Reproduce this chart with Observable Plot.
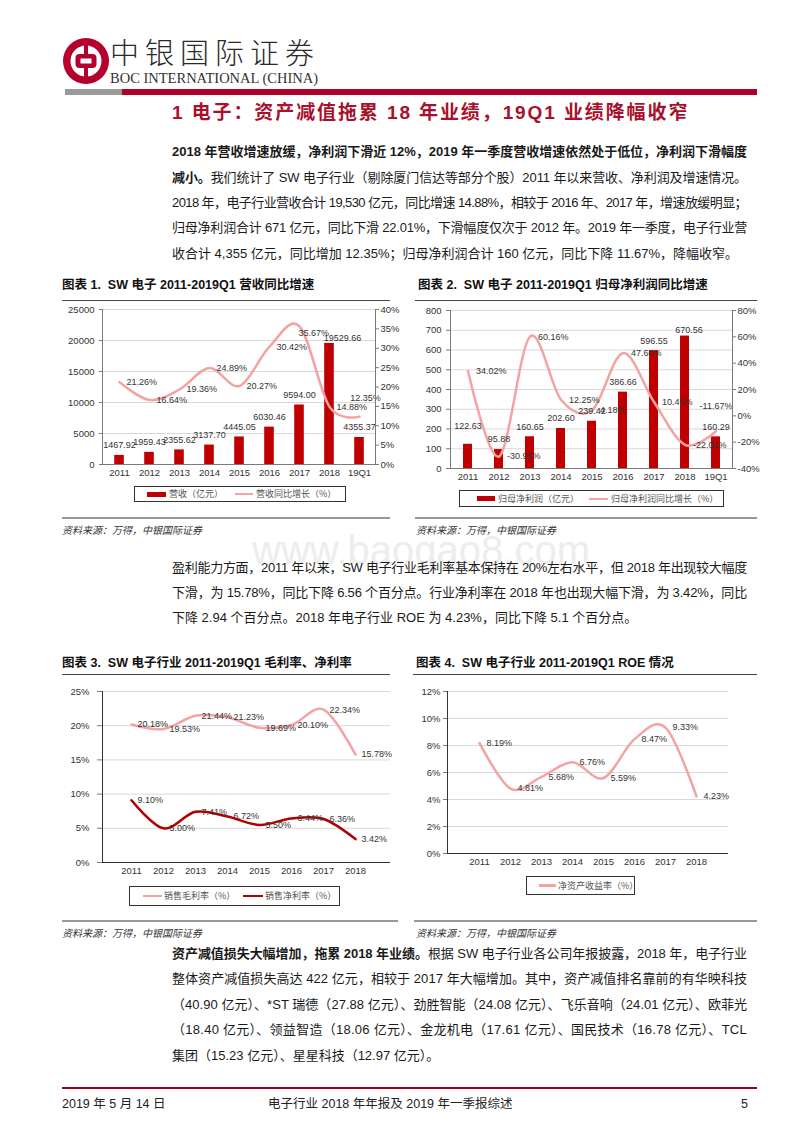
<!DOCTYPE html>
<html><head><meta charset="utf-8">
<script src="https://cdn.jsdelivr.net/npm/d3@7"></script>
<script src="https://cdn.jsdelivr.net/npm/@observablehq/plot@0.6"></script>
<style>
body{margin:0;background:#fff;}
#page{position:relative;width:800px;height:1132px;overflow:hidden;font-family:"Liberation Sans Narrow","Liberation Sans","Noto Sans CJK SC",sans-serif;color:#222;}
.ab{position:absolute;white-space:nowrap;}
.ct{font-family:"Liberation Sans","Noto Sans CJK SC",sans-serif;font-weight:bold;font-size:12.5px;color:#111;}
.src{font-family:"Noto Sans CJK SC",sans-serif;font-style:italic;font-size:10px;color:#333;}
.lg{position:absolute;border:1px solid #333;box-sizing:border-box;background:#fff;}
.lgt{position:absolute;font-family:"Noto Sans CJK SC",sans-serif;font-size:9px;color:#555;white-space:nowrap;}
svg{overflow:visible;}
</style></head>
<body><div id="page"></div>
<script>
// ---------------- data ----------------
const years9 = ["2011","2012","2013","2014","2015","2016","2017","2018","19Q1"];
const revenue = [1467.92, 1959.43, 2355.62, 3137.70, 4445.05, 6030.46, 9594.00, 19529.66, 4355.37];
const revenueGrowth = [21.26, 16.64, 19.36, 24.89, 20.27, 30.42, 35.67, 14.88, 12.35];
const netProfit = [122.63, 95.88, 160.65, 202.60, 239.42, 386.66, 596.55, 670.56, 160.29];
const netProfitGrowth = [34.02, -30.95, 60.16, 12.25, 4.18, 47.60, 10.45, -22.01, -11.67];
const years8 = ["2011","2012","2013","2014","2015","2016","2017","2018"];
const grossMargin = [20.18, 19.53, 21.44, 21.23, 19.69, 20.10, 22.34, 15.78];
const netMargin = [9.10, 5.00, 7.41, 6.72, 5.50, 6.44, 6.36, 3.42];
const roe = [8.19, 4.81, 5.68, 6.76, 5.59, 8.47, 9.33, 4.23];
const revTicks = [0, 5000, 10000, 15000, 20000, 25000];
const revPctTicks = [0, 5, 10, 15, 20, 25, 30, 35, 40];
const npTicks = [0, 100, 200, 300, 400, 500, 600, 700, 800];
const npPctTicks = [-40, -20, 0, 20, 40, 60, 80];
const marginTicks = [0, 5, 10, 15, 20, 25];
const roeTicks = [0, 2, 4, 6, 8, 10, 12];

const RED = "#c00000", PINK = "#f4a3a3", DARK = "#b00000", AX = "#7a7a7a";
const page = document.getElementById("page");

function el(tag, cls, css, html) {
  const e = document.createElement(tag);
  if (cls) e.className = cls;
  Object.assign(e.style, css || {});
  if (html != null) e.innerHTML = html;
  page.appendChild(e);
  return e;
}
function hline(x1, x2, y, color, w) {
  el("div", "", {position:"absolute", left:x1+"px", top:(y - w/2)+"px", width:(x2-x1)+"px", height:w+"px", background:color});
}
function text(html, x, yc, css, cls, lh) {
  lh = lh || 14;
  return el("div", "ab " + (cls||""), Object.assign({left:x+"px", top:(yc-lh/2)+"px", lineHeight:lh+"px", height:lh+"px"}, css||{}), html);
}
// justified body line
function bodyLine(html, yc, justify) {
  const d = el("div", "ab", {left:"172px", top:(yc-8)+"px", lineHeight:"16px", fontSize:"13px", color:"#1a1a1a"});
  const s = document.createElement("span");
  s.innerHTML = html;
  s.style.display = "inline-block";
  d.appendChild(s);
  if (justify) {
    const w = s.getBoundingClientRect().width;
    const n = s.textContent.length;
    s.style.letterSpacing = ((575 - w) / n) + "px";
  }
}

// ---------------- header ----------------
el("div", "", {position:"absolute", left:"0", top:"0"}, `
<svg width="130" height="100" style="position:absolute;left:0;top:0">
  <circle cx="86" cy="61" r="23" fill="#b5002d"/>
  <circle cx="86" cy="61" r="15.5" fill="#fff"/>
  <rect x="84" y="44" width="4" height="34" fill="#b5002d"/>
  <rect x="75.5" y="54" width="21" height="14" rx="4" fill="#b5002d"/>
  <rect x="80.5" y="58.5" width="11" height="5" fill="#fff"/>
</svg>`);
text("中银国际证券", 110, 51, {fontFamily:'"Noto Sans CJK SC",sans-serif', fontWeight:"300", fontSize:"29px", color:"#2a2a2a", letterSpacing:"6px"}, "", 29);
text("BOC INTERNATIONAL (CHINA)", 110, 78, {fontFamily:'"Liberation Serif",serif', fontSize:"14.5px", color:"#333", letterSpacing:"0px"}, "", 12);
hline(65, 122, 92, "#9a9a9a", 6);
hline(122, 757, 92, "#b0002b", 6);
text("1 电子：资产减值拖累 18 年业绩，19Q1 业绩降幅收窄", 172, 113, {fontFamily:'"Liberation Sans","Noto Sans CJK SC",sans-serif', fontWeight:"bold", fontSize:"19px", color:"#a8102b", letterSpacing:"1.9px"}, "", 20);

// ---------------- paragraph 1 ----------------
bodyLine("<b>2018 年营收增速放缓，净利润下滑近 12%，2019 年一季度营收增速依然处于低位，净利润下滑幅度</b>", 152, true);
bodyLine("<b>减小。</b>我们统计了 SW 电子行业（剔除厦门信达等部分个股）2011 年以来营收、净利润及增速情况。", 178, true);
bodyLine("2018 年，电子行业营收合计 19,530 亿元，同比增速 14.88%，相较于 2016 年、2017 年，增速放缓明显；", 203, true);
bodyLine("归母净利润合计 671 亿元，同比下滑 22.01%，下滑幅度仅次于 2012 年。2019 年一季度，电子行业营", 228, true);
bodyLine("收合计 4,355 亿元，同比增加 12.35%；归母净利润合计 160 亿元，同比下降 11.67%，降幅收窄。", 254, false);

// ---------------- chart frames / titles ----------------
text("图表 1.&nbsp; SW 电子 2011-2019Q1 营收同比增速", 62, 285, {}, "ct");
text("图表 2.&nbsp; SW 电子 2011-2019Q1 归母净利润同比增速", 418, 285, {}, "ct");
hline(62, 390, 300, "#444", 1);
hline(415, 757, 300, "#444", 1);
hline(62, 390, 518, "#999", 1.5);
hline(415, 757, 518, "#999", 1.5);
text("资料来源：万得，中银国际证券", 62, 530, {}, "src", 12);
text("资料来源：万得，中银国际证券", 416, 530, {}, "src", 12);

text("图表 3.&nbsp; SW 电子行业 2011-2019Q1 毛利率、净利率", 62, 663, {}, "ct");
text("图表 4.&nbsp; SW 电子行业 2011-2019Q1 ROE 情况", 416, 663, {}, "ct");
hline(62, 390, 674, "#444", 1);
hline(413, 757, 674, "#444", 1);
hline(62, 398, 921, "#999", 1.5);
hline(414, 757, 921, "#999", 1.5);
text("资料来源：万得，中银国际证券", 62, 933, {}, "src", 12);
text("资料来源：万得，中银国际证券", 416, 933, {}, "src", 12);

// watermark
text("www.baogao8.com", 252, 550, {fontFamily:'"Liberation Sans",sans-serif', fontSize:"40px", color:"#ededed"}, "", 20);

// ---------------- paragraph 2 ----------------
bodyLine("盈利能力方面，2011 年以来，SW 电子行业毛利率基本保持在 20%左右水平，但 2018 年出现较大幅度", 568, true);
bodyLine("下滑，为 15.78%，同比下降 6.56 个百分点。行业净利率在 2018 年也出现大幅下滑，为 3.42%，同比", 593, true);
bodyLine("下降 2.94 个百分点。2018 年电子行业 ROE 为 4.23%，同比下降 5.1 个百分点。", 618, false);

// ---------------- paragraph 3 ----------------
bodyLine("<b>资产减值损失大幅增加，拖累 2018 年业绩。</b>根据 SW 电子行业各公司年报披露，2018 年，电子行业", 954, true);
bodyLine("整体资产减值损失高达 422 亿元，相较于 2017 年大幅增加。其中，资产减值排名靠前的有华映科技", 979, true);
bodyLine("（40.90 亿元）、*ST 瑞德（27.88 亿元）、劲胜智能（24.08 亿元）、飞乐音响（24.01 亿元）、欧菲光", 1005, true);
bodyLine("（18.40 亿元）、领益智造（18.06 亿元）、金龙机电（17.61 亿元）、国民技术（16.78 亿元）、TCL", 1030, true);
bodyLine("集团（15.23 亿元）、星星科技（12.97 亿元）。", 1056, false);

// ---------------- footer ----------------
hline(62, 757, 1088, "#a0001e", 1.5);
text("2019 年 5 月 14 日", 62, 1104, {fontSize:"12.5px"});
text("电子行业 2018 年年报及 2019 年一季报综述", 268, 1104, {fontSize:"12.5px"});
text("5", 741, 1104, {fontSize:"12.5px"});

// ---------------- charts ----------------
const pstyle = {fontFamily:'"Liberation Sans Narrow","Liberation Sans",Arial,sans-serif', fontSize:"9.5px", color:"#333", background:"transparent", overflow:"visible"};
function place(svg, x, y) {
  svg.style.position = "absolute";
  svg.style.left = x + "px";
  svg.style.top = y + "px";
  page.appendChild(svg);
}
const lab = {fill:"#333", stroke:"none", fontSize: 9};

// Chart 1
const t1 = years9.map((year, i) => ({year, v: revenue[i], g: revenueGrowth[i]}));
const s1 = p => p / 40 * 25000;
const c1 = Plot.plot({
  width: 340, height: 184, marginLeft: 42, marginRight: 25, marginTop: 9, marginBottom: 20,
  style: pstyle,
  x: {type: "band", domain: years9, padding: 0, label: null},
  y: {domain: [0, 25000], label: null},
  marks: [
    Plot.gridY(revTicks.slice(1), {stroke: "#d9d9d9", strokeOpacity: 1}),
    Plot.barY(t1, {x: "year", y: "v", fill: RED, insetLeft: 10.2, insetRight: 10.2}),
    Plot.line(t1, {x: "year", y: d => s1(d.g), stroke: PINK, strokeWidth: 2.5, curve: "cardinal", tension: 0}),
    Plot.text(t1.filter(d => d.year !== "2018"), {x: "year", y: "v", text: d => d.v.toFixed(2), dy: -10, ...lab}),
    Plot.text(t1.filter(d => d.year === "2018"), {x: "year", y: "v", text: d => d.v.toFixed(2), dy: -5, dx: 13, ...lab}),
    Plot.text(t1.filter(d => !["2017", "19Q1"].includes(d.year)), {x: "year", y: d => s1(d.g), text: d => d.g.toFixed(2) + "%", textAnchor: "start", dx: 7, ...lab}),
    Plot.text(t1.filter(d => d.year === "2017"), {x: "year", y: d => s1(d.g), text: d => d.g.toFixed(2) + "%", textAnchor: "start", dx: -1, dy: 7, ...lab}),
    Plot.text(t1.filter(d => d.year === "19Q1"), {x: "year", y: d => s1(d.g), text: d => d.g.toFixed(2) + "%", dx: 6, dy: -19, ...lab}),
    Plot.axisY(revTicks, {anchor: "left", tickSize: 3, tickPadding: 5, tickFormat: d => String(d), stroke: AX}),
    Plot.axisY(revPctTicks.map(s1), {anchor: "right", tickSize: 3, tickPadding: 2, tickFormat: d => Math.round(d / 25000 * 40) + "%", stroke: AX}),
    Plot.axisX({tickSize: 0, tickPadding: 5}),
    Plot.frame({anchor: "left", stroke: AX}),
    Plot.frame({anchor: "right", stroke: AX}),
    Plot.ruleY([0], {stroke: AX})
  ]
});
place(c1, 60, 300);

// Chart 2
const t2 = years9.map((year, i) => ({year, v: netProfit[i], g: netProfitGrowth[i]}));
const s2 = p => (p + 40) / 120 * 800;
const c2 = Plot.plot({
  width: 365, height: 188, marginLeft: 50, marginRight: 33, marginTop: 10, marginBottom: 20,
  style: pstyle,
  x: {type: "band", domain: years9, padding: 0, label: null},
  y: {domain: [0, 800], label: null},
  marks: [
    Plot.gridY(npTicks.slice(1), {stroke: "#d9d9d9", strokeOpacity: 1}),
    Plot.barY(t2, {x: "year", y: "v", fill: RED, insetLeft: 11, insetRight: 11}),
    Plot.line(t2, {x: "year", y: d => s2(d.g), stroke: PINK, strokeWidth: 2.5, curve: "cardinal", tension: 0}),
    Plot.text(t2.filter(d => !["2011", "2018"].includes(d.year)), {x: "year", y: "v", text: d => d.v.toFixed(2), dy: -10, ...lab}),
    Plot.text(t2.filter(d => d.year === "2011"), {x: "year", y: "v", text: d => d.v.toFixed(2), dy: -18, ...lab}),
    Plot.text(t2.filter(d => d.year === "2018"), {x: "year", y: "v", text: d => d.v.toFixed(2), dy: -6, dx: 4, ...lab}),
    Plot.text(t2.filter(d => d.year !== "19Q1"), {x: "year", y: d => s2(d.g), text: d => d.g.toFixed(2) + "%", textAnchor: "start", dx: 8, ...lab}),
    Plot.text(t2.filter(d => d.year === "19Q1"), {x: "year", y: d => s2(d.g), text: d => d.g.toFixed(2) + "%", dx: 0, dy: -25, ...lab}),
    Plot.axisY(npTicks, {anchor: "left", tickSize: 4, tickPadding: 5, tickFormat: d => String(d), stroke: AX}),
    Plot.axisY(npPctTicks.map(s2), {anchor: "right", tickSize: 3, tickPadding: 2, tickFormat: d => Math.round(d / 800 * 120 - 40) + "%", stroke: AX}),
    Plot.axisX({tickSize: 0, tickPadding: 5}),
    Plot.frame({anchor: "left", stroke: AX}),
    Plot.frame({anchor: "right", stroke: AX}),
    Plot.ruleY([0], {stroke: AX})
  ]
});
place(c2, 400, 300);

// Chart 3
const t3 = years8.map((year, i) => ({year, gm: grossMargin[i], nm: netMargin[i]}));
const c3 = Plot.plot({
  width: 340, height: 202, marginLeft: 42, marginRight: 10, marginTop: 11, marginBottom: 20,
  style: pstyle,
  x: {type: "point", domain: years8, range: [53.3, 313.3], label: null},
  y: {domain: [0, 25], label: null},
  marks: [
    Plot.gridY(marginTicks.slice(1), {stroke: "#d9d9d9", strokeOpacity: 1}),
    Plot.line(t3, {x: "year", y: "gm", stroke: PINK, strokeWidth: 2.5, curve: "cardinal", tension: 0}),
    Plot.line(t3, {x: "year", y: "nm", stroke: DARK, strokeWidth: 2.5, curve: "cardinal", tension: 0}),
    Plot.text(t3, {x: "year", y: "gm", text: d => d.gm.toFixed(2) + "%", textAnchor: "start", dx: 6, ...lab}),
    Plot.text(t3, {x: "year", y: "nm", text: d => d.nm.toFixed(2) + "%", textAnchor: "start", dx: 6, ...lab}),
    Plot.axisY(marginTicks, {anchor: "left", tickSize: 5, tickPadding: 8, tickFormat: d => d + "%", stroke: AX}),
    Plot.axisX({tickSize: 0, tickPadding: 5}),
    Plot.frame({anchor: "left", stroke: "#333"}),
    Plot.ruleY([0], {stroke: "#333"})
  ]
});
place(c3, 60, 680);

// Chart 4
const t4 = years8.map((year, i) => ({year, r: roe[i]}));
const c4 = Plot.plot({
  width: 340, height: 193, marginLeft: 47, marginRight: 12, marginTop: 11, marginBottom: 20,
  style: pstyle,
  x: {type: "point", domain: years8, range: [63.3, 311.7], label: null},
  y: {domain: [0, 12], label: null},
  marks: [
    Plot.gridY(roeTicks.slice(1), {stroke: "#d9d9d9", strokeOpacity: 1}),
    Plot.line(t4, {x: "year", y: "r", stroke: PINK, strokeWidth: 2.5, curve: "cardinal", tension: 0}),
    Plot.text(t4, {x: "year", y: "r", text: d => d.r.toFixed(2) + "%", textAnchor: "start", dx: 7, ...lab}),
    Plot.axisY(roeTicks, {anchor: "left", tickSize: 4, tickPadding: 3, tickFormat: d => d + "%", stroke: AX}),
    Plot.axisX({tickSize: 0, tickPadding: 5}),
    Plot.frame({anchor: "left", stroke: "#333"}),
    Plot.ruleY([0], {stroke: "#333"})
  ]
});
place(c4, 400, 680);

// ---------------- legends ----------------
function legendBox(x, y, w, h) { el("div", "lg", {left:x+"px", top:y+"px", width:w+"px", height:h+"px"}); }
function swatch(x, yc, w, h, color) { el("div", "", {position:"absolute", left:x+"px", top:(yc-h/2)+"px", width:w+"px", height:h+"px", background:color}); }
function ltext(t, x, yc) { el("div", "lgt", {left:x+"px", top:(yc-6)+"px", lineHeight:"12px"}, t); }

legendBox(134, 486, 212, 16);
swatch(147, 494, 19, 5, RED); ltext("营收（亿元）", 169, 494);
swatch(235, 494, 18, 2, PINK); ltext("营收同比增长（%）", 256, 494);

legendBox(459, 490, 265, 17);
swatch(477, 498.5, 18, 5, RED); ltext("归母净利润（亿元）", 498, 498.5);
swatch(589, 498.5, 19, 2, PINK); ltext("归母净利润同比增长（%）", 611, 498.5);

legendBox(129, 886, 211, 20);
swatch(143, 896, 19, 2.5, PINK); ltext("销售毛利率（%）", 164, 896);
swatch(243, 896, 20, 2.5, DARK); ltext("销售净利率（%）", 265, 896);

legendBox(526, 876, 109, 19);
swatch(539, 885.5, 17, 2.5, PINK); ltext("净资产收益率（%）", 558, 885.5);
</script>
</body></html>
